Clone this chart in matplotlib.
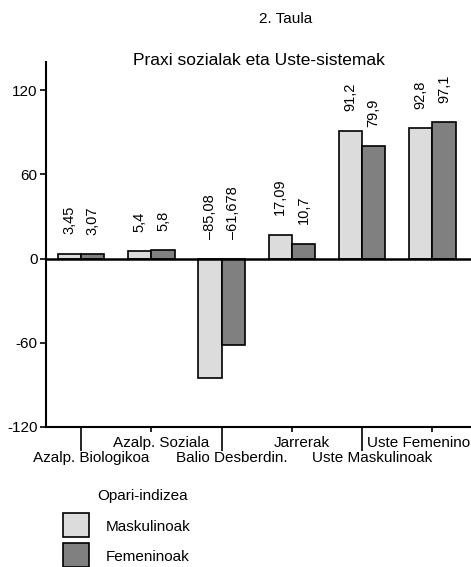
import matplotlib as mpl
import matplotlib.pyplot as plt
import matplotlib.transforms as mtransforms
import numpy as np

mpl.rcParams['font.family'] = ['Liberation Sans', 'DejaVu Sans']
mpl.rcParams['axes.unicode_minus'] = False

# datuak
kategoriak = ['Azalp. Biologikoa', 'Azalp. Soziala', 'Balio Desberdin.',
              'Jarrerak', 'Uste Maskulinoak', 'Uste Femenino']
maskulinoak = [3.45, 5.4, -85.08, 17.09, 91.2, 92.8]
femeninoak = [3.07, 5.8, -61.678, 10.7, 79.9, 97.1]
yticks = [-120, -60, 0, 60, 120]

fig = plt.figure(figsize=(4.71, 5.67), dpi=100)
ax = fig.add_axes([46 / 471, 1 - 427 / 567, 1 - 46 / 471, (427 - 62) / 567])

x = np.arange(len(kategoriak))
w = 0.33
ax.bar(x - w / 2, maskulinoak, w, color='#dcdcdc', edgecolor='black', linewidth=1.2,
       label='Maskulinoak', zorder=2)
ax.bar(x + w / 2, femeninoak, w, color='#808080', edgecolor='black', linewidth=1.2,
       label='Femeninoak', zorder=2)

def etiketa(v):
    s = str(v).replace('.', ',')
    return s.replace('-', '\u2013')

for xi, m, f in zip(x, maskulinoak, femeninoak):
    for xx, v in ((xi - w / 2, m), (xi + w / 2, f)):
        ax.annotate(etiketa(v), (xx, max(v, 0)), xytext=(0, 14),
                    textcoords='offset points', rotation=90,
                    ha='center', va='bottom', fontsize=10.5)

ax.axhline(0, color='black', linewidth=1.8, zorder=3)

ax.set_xlim(-0.5, 5.55)
ax.set_ylim(-120, 140)
ax.set_yticks(yticks)
ax.set_yticklabels([str(t) for t in yticks], fontsize=11)
ax.tick_params(axis='y', length=4, width=1.2, pad=2)

# etiketa mailakatuak
ax.set_xticks(x[0::2], [kategoriak[i] for i in x[0::2]], fontsize=11)
ax.set_xticks(x[1::2], [kategoriak[i] for i in x[1::2]], minor=True, fontsize=11)
ax.tick_params(axis='x', which='major', length=17, width=1.2, pad=0)
ax.tick_params(axis='x', which='minor', length=3.5, width=1.2, pad=3)

fig.canvas.draw()
etik = ax.get_xticklabels() + ax.get_xticklabels(minor=True)
for lab in etik:
    dx = 10 / 100
    if lab.get_text() == 'Uste Femenino':
        dx = -14 / 100
    lab.set_transform(lab.get_transform() +
                      mtransforms.ScaledTranslation(dx, 0, fig.dpi_scale_trans))

for s in ['top', 'right']:
    ax.spines[s].set_visible(False)
for s in ['left', 'bottom']:
    ax.spines[s].set_linewidth(1.5)

fig.text(259 / 471, 1 - 61 / 567, 'Praxi sozialak eta Uste-sistemak',
         ha='center', va='center', fontsize=12.5)
fig.text(286 / 471, 1 - 19 / 567, '2. Taula', ha='center', va='center', fontsize=11)

leg = ax.legend(loc='upper left', bbox_to_anchor=(52 / 471, 1 - 505 / 567),
                bbox_transform=fig.transFigure,
                frameon=False, fontsize=11,
                handlelength=1.7, handleheight=1.75, handletextpad=1.1,
                labelspacing=0.6, borderpad=0.2)
for p in leg.get_patches():
    p.set_height(p.get_height() * 1.15)
fig.text(143 / 471, 1 - 496 / 567, 'Opari-indizea', ha='center', va='center', fontsize=11)

fig.savefig('out.png', dpi=100)
